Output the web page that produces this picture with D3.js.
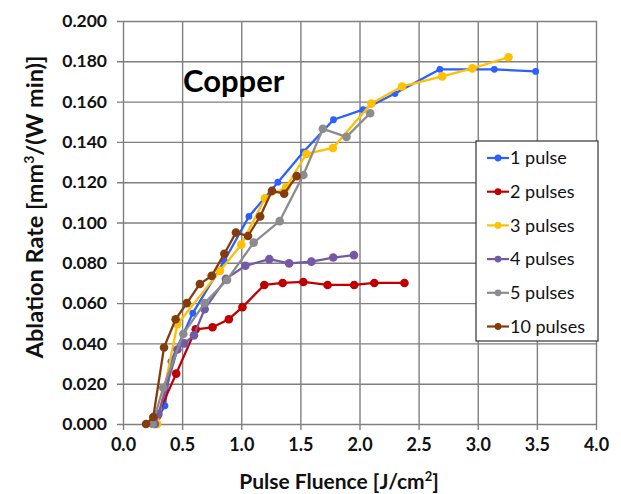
<!DOCTYPE html>
<html>
<head>
<meta charset="utf-8">
<script src="https://cdn.jsdelivr.net/npm/d3@7"></script>
<style>
  html, body { margin: 0; padding: 0; background: #fff; }
  svg { display: block; font-family: Lato, "Open Sans", sans-serif; }
</style>
</head>
<body>
<svg id="chart" width="621" height="494"></svg>
<script>
// Ablation rate of copper vs. pulse fluence, one series per pulse count
const seriesNames = ["1 pulse", "2 pulses", "3 pulses", "4 pulses", "5 pulses", "10 pulses"];
const seriesColors = ["#2b5fff", "#c00000", "#ffc000", "#7459a4", "#8c8c8c", "#843c0c"];

// [fluence J/cm², ablation rate mm³/(W min)]
const pulse1 = [[0.27,0.001],[0.355,0.009],[0.405,0.031],[0.59,0.055],[0.857,0.081],[1.065,0.103],[1.31,0.120],[1.525,0.135],[1.78,0.151],[2.03,0.156],[2.30,0.164],[2.68,0.176],[3.14,0.176],[3.49,0.175]];
const pulse2 = [[0.29,0.004],[0.45,0.025],[0.615,0.047],[0.757,0.048],[0.895,0.052],[1.01,0.058],[1.195,0.069],[1.35,0.070],[1.525,0.0705],[1.73,0.069],[1.955,0.069],[2.125,0.070],[2.38,0.070]];
const pulse3 = [[0.29,0.000],[0.46,0.0495],[0.82,0.076],[1.0,0.089],[1.20,0.112],[1.38,0.1175],[1.55,0.134],[1.775,0.137],[2.10,0.159],[2.36,0.1675],[2.70,0.1725],[2.955,0.1765],[3.26,0.182]];
const pulse4 = [[0.27,0.000],[0.30,0.005],[0.46,0.037],[0.52,0.040],[0.60,0.044],[0.69,0.057],[0.87,0.072],[1.035,0.0785],[1.237,0.0818],[1.405,0.0797],[1.593,0.0806],[1.778,0.0826],[1.953,0.0838]];
const pulse5 = [[0.25,0.000],[0.34,0.018],[0.51,0.0447],[0.69,0.060],[0.88,0.0715],[1.105,0.090],[1.325,0.1007],[1.525,0.1236],[1.69,0.1465],[1.89,0.1425],[2.09,0.1542]];
const pulse10 = [[0.195,0.000],[0.256,0.0035],[0.347,0.038],[0.445,0.052],[0.54,0.060],[0.65,0.0695],[0.75,0.0735],[0.857,0.0845],[0.955,0.095],[1.057,0.0933],[1.16,0.103],[1.26,0.1157],[1.363,0.1143],[1.469,0.123]];
const seriesData = [pulse1, pulse2, pulse3, pulse4, pulse5, pulse10];

const xTicks = [0, 0.5, 1.0, 1.5, 2.0, 2.5, 3.0, 3.5, 4.0];
const yTicks = [0, 0.02, 0.04, 0.06, 0.08, 0.10, 0.12, 0.14, 0.16, 0.18, 0.20];

const svg = d3.select("#chart");
const plot = { left: 123, right: 596, top: 21, bottom: 424 };

const x = d3.scaleLinear().domain([0, 4]).range([plot.left, plot.right]);
const y = d3.scaleLinear().domain([0, 0.2]).range([plot.bottom, plot.top]);

const gridColor = "#7f7f7f";

// Vertical grid + bottom axis
const xAxis = d3.axisBottom(x).tickValues(xTicks).tickFormat(d3.format(".1f"))
  .tickSize(-(plot.bottom - plot.top)).tickPadding(14);
const gx = svg.append("g").attr("transform", `translate(0,${plot.bottom})`).call(xAxis);
gx.select(".domain").remove();
gx.selectAll(".tick line").attr("stroke", gridColor).attr("stroke-width", 1.4)
  .attr("y1", 6);
gx.selectAll(".tick text").attr("fill", "#111").attr("font-size", 18).attr("font-weight", 700)
  .attr("font-family", "Lato");

// Horizontal grid + left axis
const yAxis = d3.axisLeft(y).tickValues(yTicks).tickFormat(d3.format(".3f"))
  .tickSize(-(plot.right - plot.left)).tickPadding(16);
const gy = svg.append("g").attr("transform", `translate(${plot.left},0)`).call(yAxis);
gy.select(".domain").remove();
gy.selectAll(".tick line").attr("stroke", gridColor).attr("stroke-width", 1.4)
  .attr("x1", -6);
gy.selectAll(".tick text").attr("fill", "#111").attr("font-size", 17.5).attr("font-weight", 700)
  .attr("font-family", "Lato");

// Series lines and markers
const line = d3.line().x(d => x(d[0])).y(d => y(d[1]));
seriesData.forEach((data, i) => {
  const g = svg.append("g");
  g.append("path").datum(data).attr("d", line)
    .attr("fill", "none").attr("stroke", seriesColors[i]).attr("stroke-width", 2.3)
    .attr("stroke-linejoin", "round");
  g.selectAll("circle").data(data).enter().append("circle")
    .attr("cx", d => x(d[0])).attr("cy", d => y(d[1]))
    .attr("r", i === 0 ? 3.4 : 4.3).attr("fill", seriesColors[i]);
});

// Material label
svg.append("text").attr("x", 183).attr("y", 92)
  .attr("font-size", 31).attr("font-weight", 700).attr("fill", "#000")
  .text("Copper");

// Legend
const legend = svg.append("g");
legend.append("rect").attr("x", 476).attr("y", 141).attr("width", 122).attr("height", 200)
  .attr("fill", "#fff").attr("stroke", "#333").attr("stroke-width", 1.2);
seriesNames.forEach((name, i) => {
  const cy = 158 + i * 33.7;
  legend.append("line").attr("x1", 487).attr("x2", 509).attr("y1", cy).attr("y2", cy)
    .attr("stroke", seriesColors[i]).attr("stroke-width", 2.2);
  legend.append("circle").attr("cx", 498).attr("cy", cy).attr("r", 3.4).attr("fill", seriesColors[i]);
  legend.append("text").attr("x", 510).attr("y", cy).attr("dy", "0.35em")
    .attr("font-size", 18).attr("fill", "#111").text(name);
});

// Axis titles
const xt = svg.append("text").attr("x", 339).attr("y", 489).attr("text-anchor", "middle")
  .attr("font-size", 21).attr("font-weight", 700).attr("fill", "#111");
xt.append("tspan").text("Pulse Fluence [J/cm");
xt.append("tspan").attr("dy", -8).attr("font-size", 13).text("2");
xt.append("tspan").attr("dy", 8).text("]");

const yt = svg.append("text").attr("transform", "translate(43,207) rotate(-90)")
  .attr("text-anchor", "middle").attr("font-size", 23.5).attr("font-weight", 700).attr("fill", "#111");
yt.append("tspan").text("Ablation Rate [mm");
yt.append("tspan").attr("dy", -9).attr("font-size", 14).text("3");
yt.append("tspan").attr("dy", 9).text("/(W min)]");
</script>
</body>
</html>
